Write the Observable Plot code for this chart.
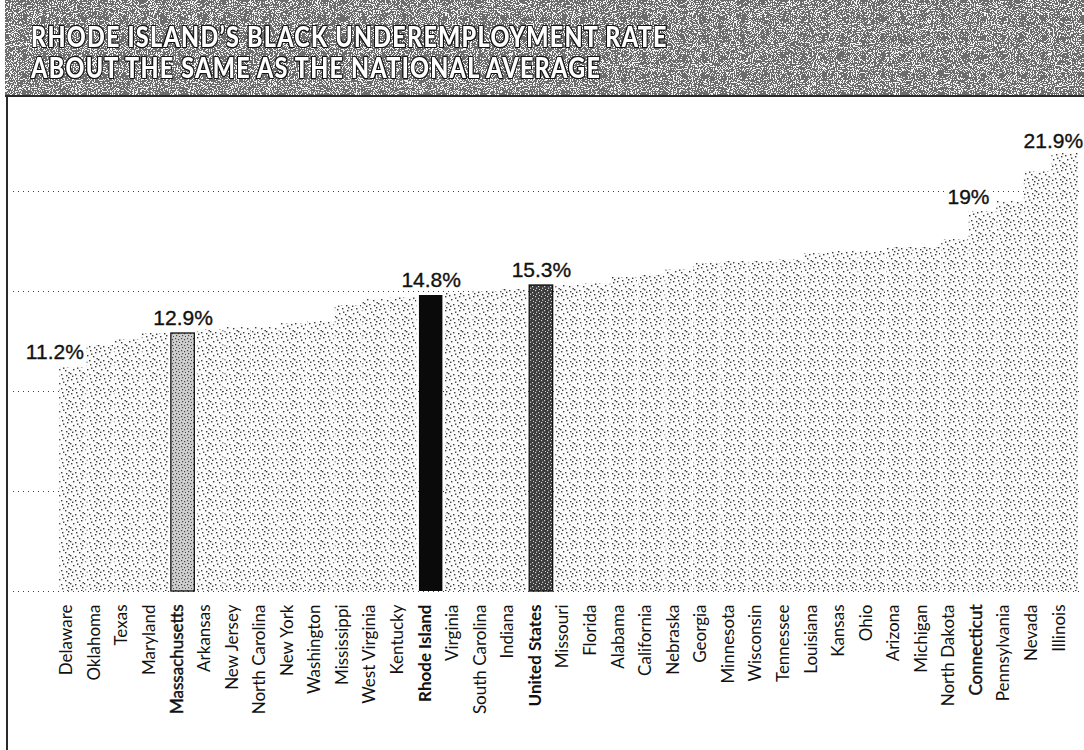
<!DOCTYPE html>
<html>
<head>
<meta charset="utf-8">
<script src="https://cdn.jsdelivr.net/npm/d3@7"></script>
<script src="https://cdn.jsdelivr.net/npm/@observablehq/plot@0.6"></script>
<style>
  html, body { margin: 0; padding: 0; background: #fff; }
  #wrap { position: relative; width: 1084px; height: 750px; background: #fff; overflow: hidden; }
  #header { position: absolute; left: 5px; top: 0; width: 1079px; height: 95px; border-bottom: 2px solid #2a2a2a; overflow: hidden; }
  #header svg { position: absolute; left: 0; top: 0; }
  #title { position: absolute; left: 26px; top: 21px; font-family: Lato, sans-serif; font-weight: 900; font-size: 28px; line-height: 31px; color: #fff; letter-spacing: 1.5px;
    transform: scaleX(0.835); transform-origin: 0 0; white-space: nowrap;
    text-shadow: 1px 1px 0 #111, -1px -1px 0 #111, 1px -1px 0 #111, -1px 1px 0 #111, 0 1px 0 #111, 0 -1px 0 #111, 1px 0 0 #111, -1px 0 0 #111; margin: 0; }
  #leftline { position: absolute; left: 6px; top: 95px; width: 2px; height: 655px; background: #2a2a2a; }
  #chart { position: absolute; left: 0; top: 97px; }
</style>
</head>
<body>
<div id="wrap">
  <div id="header">
    <svg width="1079" height="95">
      <defs>
        <filter id="hnoise" x="0" y="0" width="100%" height="100%">
          <feTurbulence type="fractalNoise" baseFrequency="0.95" numOctaves="2" seed="7" stitchTiles="stitch"/>
          <feColorMatrix type="matrix" values="1.1 1.1 1.1 0 -1.15  1.1 1.1 1.1 0 -1.15  1.1 1.1 1.1 0 -1.15  0 0 0 0 1"/>
          <feComponentTransfer>
            <feFuncR type="discrete" tableValues="0.15 0.15 0.15 0.9 0.9"/>
            <feFuncG type="discrete" tableValues="0.15 0.15 0.15 0.9 0.9"/>
            <feFuncB type="discrete" tableValues="0.15 0.15 0.15 0.9 0.9"/>
          </feComponentTransfer>
        </filter>
      </defs>
      <rect width="1079" height="95" fill="#888" filter="url(#hnoise)"/>
    </svg>
    <h1 id="title">RHODE ISLAND’S BLACK UNDEREMPLOYMENT RATE<br>ABOUT THE SAME AS THE NATIONAL AVERAGE</h1>
  </div>
  <div id="leftline"></div>
  <div id="chart"></div>
</div>
<script>
// ---- data ----
const states = ["Delaware","Oklahoma","Texas","Maryland","Massachusetts","Arkansas","New Jersey","North Carolina","New York","Washington","Mississippi","West Virginia","Kentucky","Rhode Island","Virginia","South Carolina","Indiana","United States","Missouri","Florida","Alabama","California","Nebraska","Georgia","Minnesota","Wisconsin","Tennessee","Louisiana","Kansas","Ohio","Arizona","Michigan","North Dakota","Connecticut","Pennsylvania","Nevada","Illinois"];
const rates = [11.2,12.3,12.6,12.9,12.9,13.1,13.2,13.2,13.4,13.5,14.3,14.6,14.7,14.8,14.9,15.0,15.1,15.3,15.3,15.4,15.7,15.8,16.1,16.4,16.5,16.5,16.6,16.9,17.0,17.0,17.2,17.2,17.6,19.0,19.5,21.0,21.9];
const lightState = ["Massachusetts"];
const blackState = ["Rhode Island"];
const darkState = ["United States"];
const boldStates = ["Rhode Island","United States"];
const semiStates = ["Massachusetts","Connecticut"];
const labelStates = ["Delaware","Massachusetts","Rhode Island","United States","Connecticut","Illinois"];
const labelTexts = ["11.2%","12.9%","14.8%","15.3%","19%","21.9%"];
const gridValues = [0,5,10,15,20];

const table = states.map((s, i) => ({state: s, rate: rates[i]}));
const labels = labelStates.map((s, i) => ({state: s, rate: rates[states.indexOf(s)], text: labelTexts[i]}));
const special = [...lightState, ...blackState, ...darkState];
const regularStates = states.filter(s => !boldStates.includes(s) && !semiStates.includes(s));

const axisCommon = {tickSize: 0, tickPadding: 13, tickRotate: -90, dx: -6, fontSize: 17, fontFamily: "Lato, sans-serif", color: "#111", label: null};
const labelCommon = {x: "state", y: "rate", text: "text", fontSize: 21, fontFamily: "Liberation Sans, Arial, sans-serif", fill: "#111", stroke: "#111", strokeWidth: 0.35, lineAnchor: "bottom"};

const chart = Plot.plot({
  width: 1084,
  height: 653,
  marginLeft: 58,
  marginRight: 5,
  marginTop: 14,
  marginBottom: 159,
  x: {domain: states, padding: 0.04, round: false},
  y: {domain: [0, 24], axis: null},
  style: {background: "transparent", overflow: "visible"},
  marks: [
    Plot.ruleY(gridValues, {stroke: "#444", strokeWidth: 1.1, strokeDasharray: "1,4", insetLeft: -45}),
    Plot.barY(table, {filter: d => !special.includes(d.state), x: "state", y: "rate", fill: "url(#stip)"}),
    Plot.barY(table, {filter: d => lightState.includes(d.state), x: "state", y: "rate", fill: "url(#stipMA)", stroke: "#111", strokeWidth: 1.3, insetLeft: 1.5, insetRight: 1.5}),
    Plot.barY(table, {filter: d => blackState.includes(d.state), x: "state", y: "rate", fill: "#0a0a0a", insetLeft: 1.5, insetRight: 1.5}),
    Plot.barY(table, {filter: d => darkState.includes(d.state), x: "state", y: "rate", fill: "url(#stipUS)", stroke: "#111", strokeWidth: 1.3, insetLeft: 1.5, insetRight: 1.5}),
    Plot.axisX(regularStates, {...axisCommon}),
    Plot.axisX(semiStates, {...axisCommon, textStroke: "#111", textStrokeWidth: 0.45}),
    Plot.axisX(boldStates, {...axisCommon, fontWeight: 700}),
    Plot.text(labels, {...labelCommon, filter: d => ["Massachusetts","Rhode Island","United States"].includes(d.state), dy: -9}),
    Plot.text(labels, {...labelCommon, filter: d => d.state === "Delaware", textAnchor: "end", dx: 11, dy: -9}),
    Plot.text(labels, {...labelCommon, filter: d => d.state === "Connecticut", dx: -14, dy: -8, fill: "#fff", stroke: "#fff", strokeWidth: 7}),
    Plot.text(labels, {...labelCommon, filter: d => d.state === "Connecticut", dx: -14, dy: -8}),
    Plot.text(labels, {...labelCommon, filter: d => d.state === "Illinois", textAnchor: "end", dx: 18, dy: -6})
  ]
});

// stipple patterns used as bar fills
d3.select(chart).insert("defs", ":first-child").html(`
  <pattern id="stip" width="14" height="14" patternUnits="userSpaceOnUse">
    <rect width="14" height="14" fill="#fbfbfb"/>
    <g fill="#3a3a3a">
      <rect x="1" y="2" width="1.4" height="1.4"/><rect x="6" y="1" width="1.4" height="1.4"/>
      <rect x="11" y="3" width="1.4" height="1.4"/><rect x="3" y="6" width="1.4" height="1.4"/>
      <rect x="9" y="7" width="1.4" height="1.4"/><rect x="12.5" y="9" width="1.4" height="1.4"/>
      <rect x="0" y="10" width="1.4" height="1.4"/><rect x="5" y="11" width="1.4" height="1.4"/>
      <rect x="10" y="12" width="1.4" height="1.4"/><rect x="7" y="4.5" width="1.4" height="1.4"/>
      <rect x="2" y="12.6" width="1.4" height="1.4"/><rect x="12" y="0" width="1.4" height="1.4"/>
    </g>
  </pattern>
  <pattern id="stipMA" width="6" height="6" patternUnits="userSpaceOnUse">
    <rect width="6" height="6" fill="#cfcfcf"/>
    <g fill="#444">
      <rect x="1" y="1" width="1.2" height="1.2"/><rect x="4" y="2" width="1.2" height="1.2"/>
      <rect x="2" y="4" width="1.2" height="1.2"/><rect x="5" y="5" width="1" height="1"/>
    </g>
  </pattern>
  <pattern id="stipUS" width="6" height="6" patternUnits="userSpaceOnUse">
    <rect width="6" height="6" fill="#3c3c3c"/>
    <g fill="#d8d8d8">
      <rect x="1" y="1" width="1.2" height="1.2"/><rect x="4" y="3" width="1.2" height="1.2"/>
      <rect x="2" y="4.6" width="1.2" height="1.2"/><rect x="5" y="0" width="1" height="1"/>
    </g>
  </pattern>
`);

document.getElementById("chart").appendChild(chart);
</script>
</body>
</html>
